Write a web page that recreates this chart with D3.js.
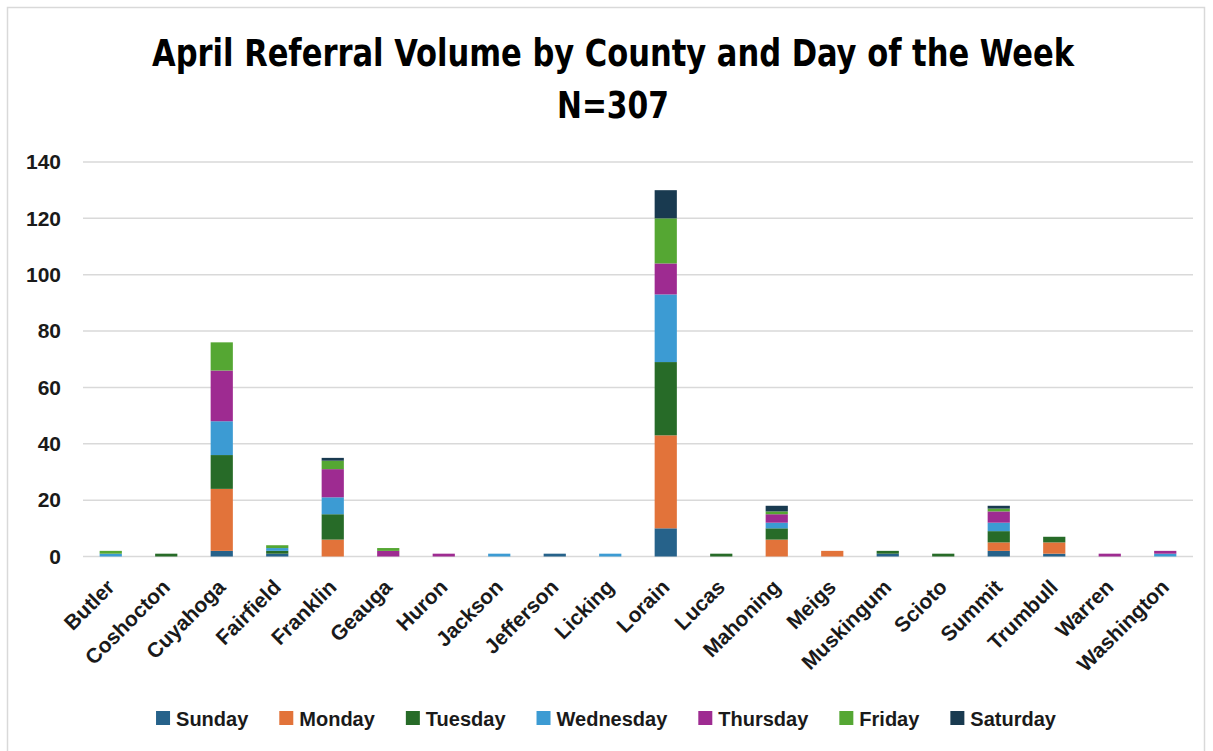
<!DOCTYPE html>
<html>
<head>
<meta charset="utf-8">
<script src="https://cdn.jsdelivr.net/npm/d3@7"></script>
<style>
  body { margin: 0; background: #fff; }
  svg { display: block; }
</style>
</head>
<body>
<svg id="chart"></svg>
<script>
// counties on the x axis
const counties = ["Butler", "Coshocton", "Cuyahoga", "Fairfield", "Franklin", "Geauga", "Huron",
  "Jackson", "Jefferson", "Licking", "Lorain", "Lucas", "Mahoning", "Meigs", "Muskingum",
  "Scioto", "Summit", "Trumbull", "Warren", "Washington"];
const days = ["Sunday", "Monday", "Tuesday", "Wednesday", "Thursday", "Friday", "Saturday"];
// one array per day, same order as counties
const sunday    = [0, 0, 2, 1, 0, 0, 0, 0, 1, 0, 10, 0, 0, 0, 1, 0, 2, 1, 0, 0];
const monday    = [0, 0, 22, 0, 6, 0, 0, 0, 0, 0, 33, 0, 6, 2, 0, 0, 3, 4, 0, 0];
const tuesday   = [0, 1, 12, 1, 9, 0, 0, 0, 0, 0, 26, 1, 4, 0, 1, 1, 4, 2, 0, 0];
const wednesday = [1, 0, 12, 1, 6, 0, 0, 1, 0, 1, 24, 0, 2, 0, 0, 0, 3, 0, 0, 1];
const thursday  = [0, 0, 18, 0, 10, 2, 1, 0, 0, 0, 11, 0, 3, 0, 0, 0, 4, 0, 1, 1];
const friday    = [1, 0, 10, 1, 3, 1, 0, 0, 0, 0, 16, 0, 1, 0, 0, 0, 1, 0, 0, 0];
const saturday  = [0, 0, 0, 0, 1, 0, 0, 0, 0, 0, 10, 0, 2, 0, 0, 0, 1, 0, 0, 0];
const yTicks = [0, 20, 40, 60, 80, 100, 120, 140];
const colors = ["#26628a", "#e2733a", "#276b28", "#3c9bd3", "#9e2b91", "#55a733", "#193a50"];

const seriesVals = [sunday, monday, tuesday, wednesday, thursday, friday, saturday];
// rows for d3.stack
const table = counties.map((c, i) => {
  const row = { county: c };
  days.forEach((d, k) => row[d] = seriesVals[k][i]);
  return row;
});

const width = 1213;
const height = 751;
const marge = { top: 162, bottom: 194.5, left: 83, right: 20 };
const labelFont = "'Liberation Sans', Arial, sans-serif";

const svg = d3.select("#chart").attr("width", width).attr("height", height);

// chart frame
svg.append("rect")
  .attr("x", 7.5).attr("y", 7.5)
  .attr("width", 1197).attr("height", 760)
  .attr("fill", "none").attr("stroke", "#d9d9d9").attr("stroke-width", 1.5);

// title
const titleFont = "'Liberation Sans Narrow', 'DejaVu Sans Condensed', 'Liberation Sans', sans-serif";
svg.append("text")
  .attr("x", 613).attr("y", 66)
  .attr("text-anchor", "middle")
  .attr("font-family", titleFont).attr("font-weight", "bold").attr("font-size", 37)
  .attr("textLength", 922).attr("lengthAdjust", "spacingAndGlyphs")
  .attr("fill", "#000")
  .text("April Referral Volume by County and Day of the Week");
svg.append("text")
  .attr("x", 613).attr("y", 118)
  .attr("text-anchor", "middle")
  .attr("font-family", titleFont).attr("font-weight", "bold").attr("font-size", 38)
  .attr("textLength", 112).attr("lengthAdjust", "spacingAndGlyphs")
  .attr("fill", "#000")
  .text("N=307");

const x = d3.scaleBand()
  .domain(counties)
  .range([marge.left, width - marge.right])
  .paddingInner(0.6)
  .paddingOuter(0.3);

const y = d3.scaleLinear()
  .domain([0, 140])
  .range([height - marge.bottom, marge.top]);

// grid lines
svg.append("g")
  .selectAll("line")
  .data(yTicks)
  .join("line")
  .attr("x1", marge.left).attr("x2", width - marge.right)
  .attr("y1", d => y(d)).attr("y2", d => y(d))
  .attr("stroke", "#d9d9d9").attr("stroke-width", 1.5);

// y axis labels
const yAxis = d3.axisLeft(y).tickValues(yTicks).tickSize(0).tickPadding(0);
const gay = svg.append("g").attr("transform", "translate(61,0)").call(yAxis);
gay.select(".domain").remove();
gay.selectAll("text")
  .attr("font-family", labelFont)
  .attr("font-weight", "bold").attr("font-size", 21).attr("fill", "#1a1a1a");

// stacked bars
const stack = d3.stack().keys(days);
const layers = stack(table);
svg.append("g")
  .selectAll("g")
  .data(layers)
  .join("g")
  .attr("fill", (d, i) => colors[i])
  .selectAll("rect")
  .data(d => d.filter(p => p[1] > p[0]))
  .join("rect")
  .attr("x", d => x(d.data.county))
  .attr("y", d => y(d[1]))
  .attr("width", x.bandwidth())
  .attr("height", d => y(d[0]) - y(d[1]));

// x axis labels, rotated
const xAxis = d3.axisBottom(x).tickSize(0).tickPadding(0);
const gax = svg.append("g").attr("transform", `translate(0,${y(0)})`).call(xAxis);
gax.select(".domain").remove();
gax.selectAll("text")
  .attr("font-family", labelFont)
  .attr("font-weight", "bold").attr("font-size", 21).attr("fill", "#1a1a1a")
  .attr("text-anchor", "end")
  .attr("dy", 0)
  .attr("transform", "translate(5,32) rotate(-45)");

// legend
const legend = svg.append("g");
const items = legend.selectAll("g")
  .data(days)
  .join("g");
items.append("rect")
  .attr("width", 14).attr("height", 14)
  .attr("y", -15)
  .attr("fill", (d, i) => colors[i]);
items.append("text")
  .attr("x", 20).attr("y", 0)
  .attr("font-family", labelFont)
  .attr("font-weight", "bold").attr("font-size", 20).attr("fill", "#1a1a1a")
  .text(d => d);
const gap = 31;
let pos = 0;
items.each(function () {
  const w = d3.select(this).select("text").node().getComputedTextLength();
  d3.select(this).attr("transform", `translate(${pos},0)`);
  pos += 20 + w + gap;
});
const legendW = pos - gap;
legend.attr("transform", `translate(${606 - legendW / 2},726)`);
</script>
</body>
</html>
